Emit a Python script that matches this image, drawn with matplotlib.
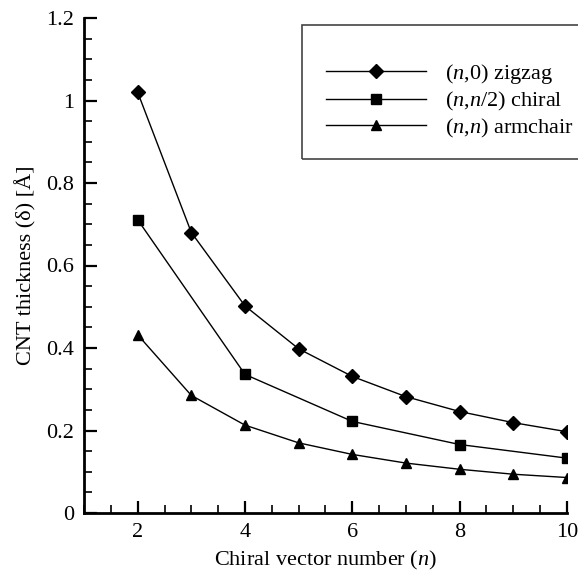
import matplotlib
matplotlib.use('Agg')
from matplotlib import pyplot as plt
from matplotlib.patches import Rectangle
from matplotlib.ticker import MultipleLocator

plt.rcParams['font.family'] = 'Liberation Serif'
plt.rcParams['mathtext.fontset'] = 'custom'
plt.rcParams['mathtext.rm'] = 'Liberation Serif'
plt.rcParams['mathtext.it'] = 'Liberation Serif:italic'

# data
n_zig = [2, 3, 4, 5, 6, 7, 8, 9, 10]
zigzag = [1.02, 0.68, 0.502, 0.398, 0.331, 0.282, 0.246, 0.219, 0.197]
n_chi = [2, 4, 6, 8, 10]
chiral = [0.711, 0.336, 0.222, 0.166, 0.133]
n_arm = [2, 3, 4, 5, 6, 7, 8, 9, 10]
armchair = [0.432, 0.285, 0.213, 0.170, 0.142, 0.121, 0.106, 0.094, 0.086]

fig = plt.figure(figsize=(5.78, 5.77), dpi=100)
ax = fig.add_axes([84/578, 64/577, 483/578, 495/577])

ax.plot(n_zig, zigzag, 'k-', marker='D', ms=7.5, lw=1, label='$(\\mathit{n}$,0) zigzag')
ax.plot(n_chi, chiral, 'k-', marker='s', ms=7, lw=1, label='$(\\mathit{n}$,$\\mathit{n}$/2) chiral')
ax.plot(n_arm, armchair, 'k-', marker='^', ms=7.5, lw=1, label='$(\\mathit{n}$,$\\mathit{n}$) armchair')

ax.set_xlim(1, 10)
ax.set_ylim(0, 1.2)
ax.xaxis.set_minor_locator(MultipleLocator(0.5))
ax.yaxis.set_minor_locator(MultipleLocator(0.05))
ax.set_yticks([0, 0.2, 0.4, 0.6, 0.8, 1.0, 1.2])
ax.set_yticklabels(['0', '0.2', '0.4', '0.6', '0.8', '1', '1.2'])
ax.set_xticks([2, 4, 6, 8, 10])
ax.set_xticklabels(['2', '4', '6', '8', '10'])

for s in ['top', 'right']:
    ax.spines[s].set_visible(False)
for s in ['left', 'bottom']:
    ax.spines[s].set_linewidth(2)
ax.tick_params(which='major', direction='in', length=9, width=1.6, labelsize=16, pad=7)
ax.tick_params(which='minor', direction='in', length=5.5, width=1.2)

ax.set_xlabel('Chiral vector number ($\\mathit{n}$)', fontsize=16, labelpad=5)
ax.set_ylabel('CNT thickness (δ) [Å]', fontsize=16, labelpad=7)

fig.patches.append(Rectangle((302/578, 418/577), 290/578, 134/577, transform=fig.transFigure,
                             fill=False, edgecolor='#444444', lw=1.2))
leg = ax.legend(loc='upper left', bbox_to_anchor=(326/578, 1 - 62/577), bbox_transform=fig.transFigure,
                frameon=False, fontsize=16, handlelength=4.5, handletextpad=0.85,
                labelspacing=0.17, borderpad=0, borderaxespad=0)

fig.savefig('out.png', dpi=100)
